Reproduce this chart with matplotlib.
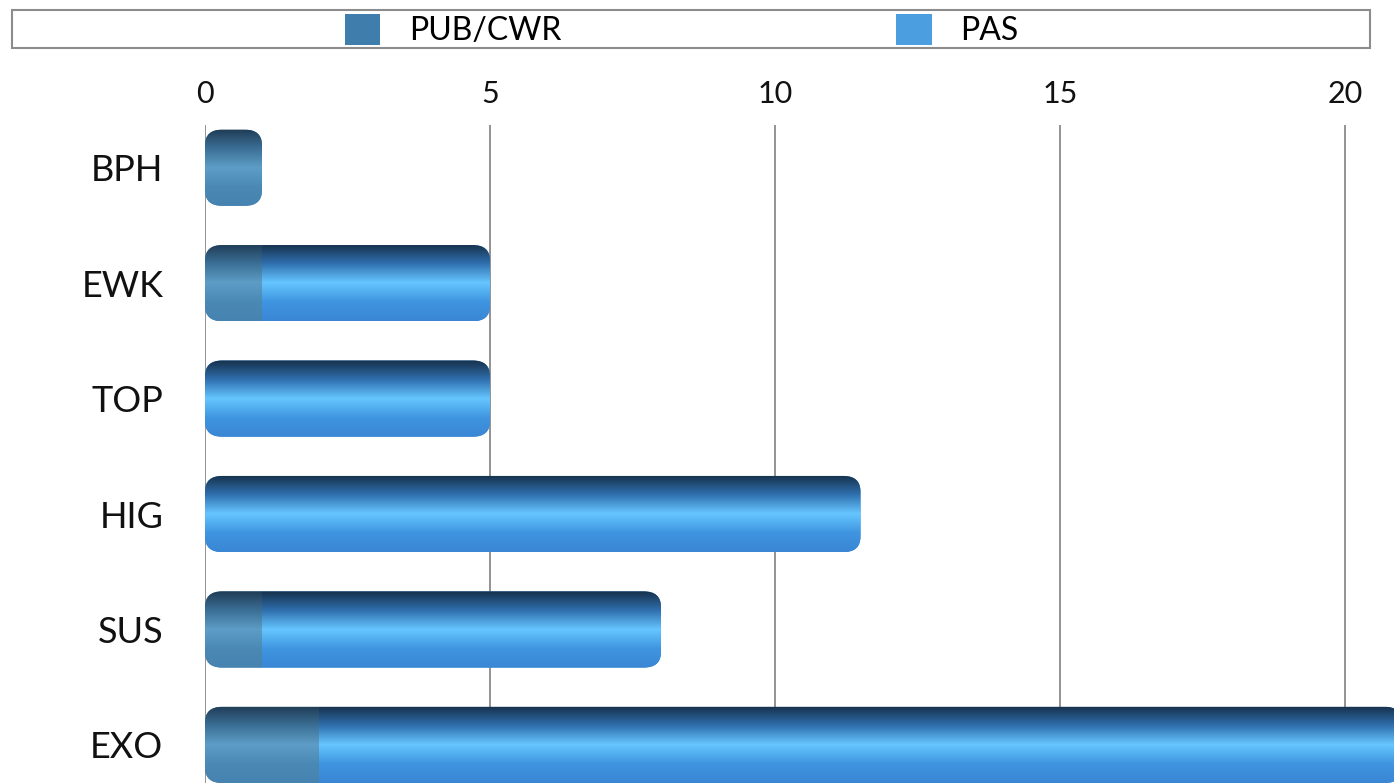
import numpy as np
import matplotlib.pyplot as plt
from matplotlib.colors import LinearSegmentedColormap
from matplotlib.patches import Rectangle, Patch, FancyBboxPatch

plt.rcParams['font.family'] = ['Lato', 'DejaVu Sans']

# --- data ---
groups = ["BPH", "EWK", "TOP", "HIG", "SUS", "EXO"]
pub_cwr = [1, 1, 0, 0, 1, 2]
pas = [0, 4, 5, 11.5, 7, 19]
x_ticks = [0, 5, 10, 15, 20]

# shading for the tube look: dark top edge, bright highlight, mid-tone bottom
pub_cmap = LinearSegmentedColormap.from_list(
    "pub", ["#1f3c55", "#3b6f96", "#5d9dc6", "#4b89b5", "#4683b0"])
pas_cmap = LinearSegmentedColormap.from_list(
    "pas", ["#16304a", "#2f6fae", "#66c6ff", "#3f95e0", "#3a86d4"])
grad = np.linspace(0, 1, 256).reshape(-1, 1)

fig = plt.figure(figsize=(13.94, 7.83), dpi=100)
ax = fig.add_axes([205 / 1394, 0.0, 1 - 205 / 1394, 1 - 125 / 783])

y = np.arange(len(groups))
bar_h = 0.66
totals = np.array(pub_cwr) + np.array(pas)

# rounded outline for each row, used to clip both segments
row_shapes = []
for yi, tot in zip(y, totals):
    shape = FancyBboxPatch((0, yi - bar_h / 2), tot, bar_h,
                           boxstyle="round,pad=0,rounding_size=0.3",
                           mutation_aspect=0.45, facecolor="none",
                           edgecolor="none", transform=ax.transData)
    ax.add_patch(shape)
    row_shapes.append(shape)


def shaded_barh(left, width, cmap, color):
    bars = ax.barh(y, width, left=left, height=bar_h, color=color,
                   edgecolor="none", zorder=2)
    for rect, shape in zip(bars, row_shapes):
        rect.set_clip_path(shape)
        if rect.get_width() <= 0:
            continue
        x0, y0 = rect.get_x(), rect.get_y()
        img = ax.imshow(grad, cmap=cmap, aspect="auto",
                        extent=[x0, x0 + rect.get_width(), y0 + rect.get_height(), y0],
                        zorder=3, interpolation="bicubic")
        img.set_clip_path(shape)
    return bars


shaded_barh(0, pub_cwr, pub_cmap, "#4683b0")
shaded_barh(pub_cwr, pas, pas_cmap, "#3a86d4")

ax.set_xlim(0, (1394 - 205) / 57)
ax.set_ylim(5.33, -0.37)

for t in x_ticks:
    ax.axvline(t, color="#8a8a8a", lw=1.3, zorder=1)

ax.xaxis.tick_top()
ax.set_xticks(x_ticks)
ax.set_xticklabels([str(t) for t in x_ticks], fontsize=22, color="#111111")
ax.tick_params(axis="x", length=0, pad=12)
ax.set_yticks(y)
ax.set_yticklabels(groups, fontsize=26, color="#111111")
ax.tick_params(axis="y", length=0, pad=30)
for s in ax.spines.values():
    s.set_visible(False)

# legend frame across the top
fig.patches.append(Rectangle((12 / 1394, 1 - 48 / 783), 1358 / 1394, 38 / 783,
                             transform=fig.transFigure, facecolor="white",
                             edgecolor="#8c8c8c", lw=1.5, zorder=0))
handles = [Patch(facecolor="#3f7eac", label="PUB/CWR"),
           Patch(facecolor="#4b9ee0", label="PAS")]
fig.legend(handles=handles, loc="center", ncol=2, frameon=False,
           bbox_to_anchor=(0.489, 1 - 30 / 783), fontsize=23,
           handlelength=1.1, handleheight=1.1, handletextpad=0.9,
           columnspacing=10.5, borderpad=0.1)

fig.savefig("out.png", dpi=100)
